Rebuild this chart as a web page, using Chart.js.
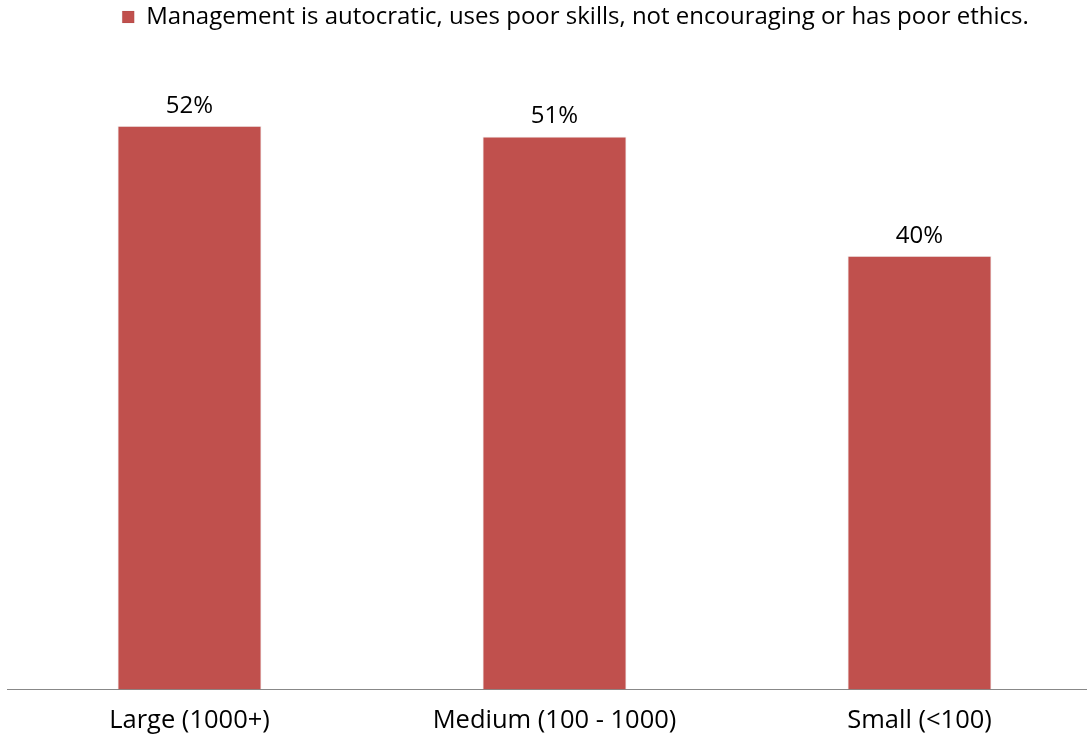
<!DOCTYPE html>
<html>
<head>
<meta charset="utf-8">
<script src="https://cdn.jsdelivr.net/npm/chart.js@4"></script>
<style>
  html, body { margin: 0; padding: 0; background: #fff; overflow: hidden; }
  #wrap { position: relative; width: 1150px; height: 752px; }
</style>
</head>
<body>
<div id="wrap"><canvas id="c"></canvas></div>
<script>
const categories = ["Large (1000+)", "Medium (100 - 1000)", "Small (<100)"];
const seriesName = "Management is autocratic, uses poor skills, not encouraging or has poor ethics.";
const seriesValues = [52, 51, 40];
const barColor = "#C0504D";

const dataLabels = {
  id: "dataLabels",
  afterDatasetsDraw(chart) {
    const ctx = chart.ctx;
    const meta = chart.getDatasetMeta(0);
    ctx.save();
    ctx.font = "24px 'Open Sans'";
    ctx.fillStyle = "#000";
    ctx.textAlign = "center";
    ctx.textBaseline = "middle";
    meta.data.forEach((bar, i) => {
      ctx.fillText(seriesValues[i] + "%", bar.x, bar.y - 20);
    });
    ctx.restore();
  }
};

const legendShift = {
  id: "legendShift",
  afterLayout(chart) {
    if (chart.legend) {
      chart.legend.left += 21;
      chart.legend.right += 21;
    }
  }
};

new Chart(document.getElementById("c"), {
  type: "bar",
  data: {
    labels: categories,
    datasets: [{
      label: seriesName,
      data: seriesValues,
      backgroundColor: barColor,
      borderColor: "rgba(0,0,0,0.06)",
      borderWidth: 1,
      barPercentage: 0.395,
      categoryPercentage: 1.0
    }]
  },
  options: {
    responsive: true,
    maintainAspectRatio: false,
    animation: false,
    layout: { padding: { left: 7, right: 48, top: 0, bottom: 0 } },
    plugins: {
      legend: {
        position: "top",
        labels: {
          boxWidth: 12,
          boxHeight: 12,
          color: "#000",
          font: { family: "'Open Sans'", size: 24 },
          padding: 5
        }
      },
      tooltip: { enabled: false }
    },
    scales: {
      x: {
        grid: { display: false, drawTicks: false },
        border: { display: true, color: "#888888", width: 1 },
        ticks: {
          color: "#000",
          font: { family: "'Open Sans'", size: 25.5 },
          padding: 16
        }
      },
      y: {
        display: false,
        min: 0,
        max: 60
      }
    }
  },
  plugins: [dataLabels, legendShift]
});
</script>
</body>
</html>
